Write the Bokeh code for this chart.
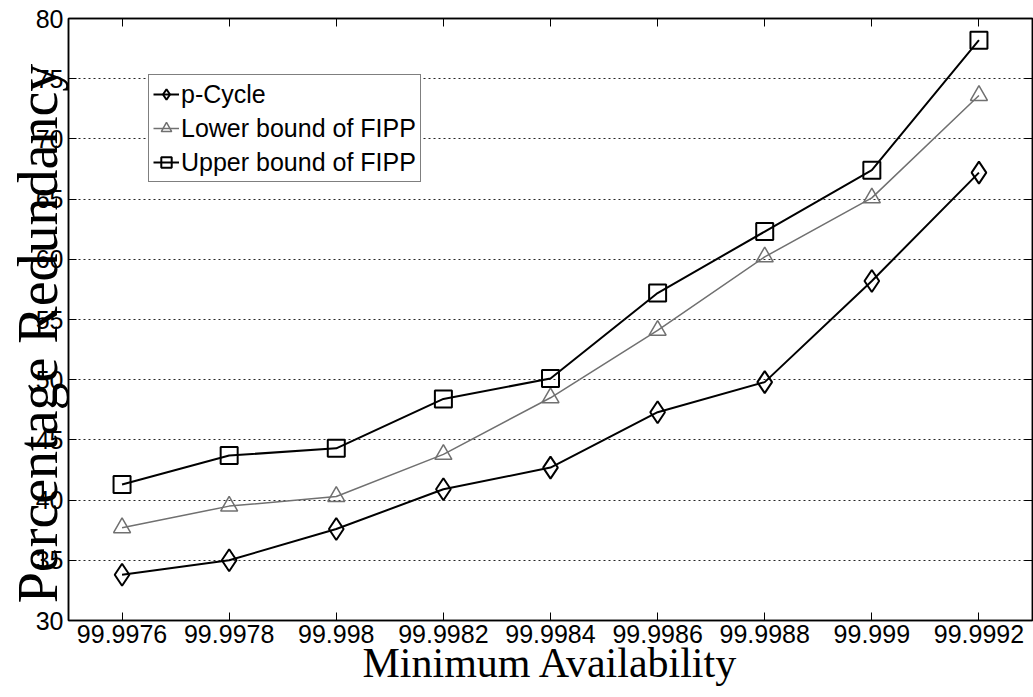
from bokeh.plotting import figure
from bokeh.models import (FactorRange, Range1d, FixedTicker, CategoricalAxis, LinearAxis,
                          Legend, LegendItem)
from bokeh.embed import file_html
from bokeh.resources import INLINE

availability = ["99.9976", "99.9978", "99.998", "99.9982", "99.9984",
                "99.9986", "99.9988", "99.999", "99.9992"]
p_cycle = [33.8, 35.0, 37.6, 40.9, 42.7, 47.3, 49.8, 58.2, 67.2]
fipp_lower = [37.7, 39.5, 40.3, 43.8, 48.5, 54.1, 60.2, 65.1, 73.6]
fipp_upper = [41.3, 43.7, 44.3, 48.4, 50.1, 57.2, 62.3, 67.4, 78.2]
y_ticks = [30, 35, 40, 45, 50, 55, 60, 65, 70, 75, 80]

p = figure(width=1033, height=697, output_backend="svg", toolbar_location=None,
           x_range=FactorRange(*availability), y_range=Range1d(30, 80),
           min_border_left=68, min_border_right=1, min_border_top=18, min_border_bottom=77)
p.background_fill_color = "white"
p.border_fill_color = "white"
p.outline_line_color = "black"
p.outline_line_width = 1.5

tick_font = "Liberation Sans"
for ax in (p.xaxis[0], p.yaxis[0]):
    ax.major_label_text_font = tick_font
    ax.major_label_text_font_size = "25px"
    ax.major_label_text_color = "black"
    ax.major_tick_in = 8
    ax.major_tick_out = 0
    ax.minor_tick_in = 0
    ax.minor_tick_out = 0
    ax.axis_line_color = "black"
    ax.axis_line_width = 1.5
    ax.major_tick_line_color = "black"
    ax.axis_label_text_font = "Liberation Serif"
    ax.axis_label_text_font_style = "normal"
    ax.axis_label_text_color = "black"

p.yaxis[0].ticker = FixedTicker(ticks=y_ticks)
p.yaxis[0].major_label_standoff = 5
p.xaxis[0].major_label_standoff = 4
p.xaxis[0].axis_label = "Minimum Availability"
p.xaxis[0].axis_label_text_font_size = "42px"
p.xaxis[0].axis_label_standoff = -6
p.yaxis[0].axis_label = "Percentage Redundancy\u00a0\u00a0"
p.yaxis[0].axis_label_text_font_size = "56px"
p.yaxis[0].axis_label_standoff = -36

top_ax = CategoricalAxis(major_label_text_font_size="1px", major_label_text_color=None,
                         major_label_standoff=0,
                         major_tick_in=8, major_tick_out=0, axis_line_color="black",
                         axis_line_width=1.5)
right_ax = LinearAxis(ticker=FixedTicker(ticks=y_ticks), major_label_text_font_size="1px",
                      major_label_text_color=None,
                      major_label_standoff=0, major_tick_in=8, major_tick_out=0,
                      minor_tick_in=0, minor_tick_out=0, axis_line_color="black",
                      axis_line_width=1.5)
p.add_layout(top_ax, "above")
p.add_layout(right_ax, "right")

p.xgrid.grid_line_color = None
p.ygrid.grid_line_color = "black"
p.ygrid.grid_line_dash = "2 3"
p.ygrid.grid_line_width = 1
p.ygrid.grid_line_alpha = 0.85

r1l = p.line(availability, p_cycle, line_color="black", line_width=2)
r1m = p.scatter(availability, p_cycle, marker="diamond", size=22, fill_color=None,
                line_color="black", line_width=2)
r2l = p.line(availability, fipp_lower, line_color="#707070", line_width=1.5)
r2m = p.scatter(availability, fipp_lower, marker="triangle", size=17, fill_color=None,
                line_color="#707070", line_width=1.5)
r3l = p.line(availability, fipp_upper, line_color="black", line_width=2)
r3m = p.scatter(availability, fipp_upper, marker="square", size=17, fill_color=None,
                line_color="black", line_width=2)

legend = Legend(items=[
    LegendItem(label="p-Cycle", renderers=[r1l, r1m]),
    LegendItem(label="Lower bound of FIPP", renderers=[r2l, r2m]),
    LegendItem(label="Upper bound of FIPP", renderers=[r3l, r3m]),
], location=(80, 438))
legend.label_text_font = tick_font
legend.label_text_font_size = "25px"
legend.label_text_color = "black"
legend.glyph_width = 26
legend.glyph_height = 30
legend.label_height = 30
legend.label_standoff = 2
legend.spacing = 4
legend.padding = 4
legend.margin = 0
legend.border_line_color = "black"
legend.border_line_width = 1.5
legend.background_fill_color = "white"
legend.background_fill_alpha = 1
p.add_layout(legend, "center")

open("out.html", "w").write(file_html(p, INLINE))
